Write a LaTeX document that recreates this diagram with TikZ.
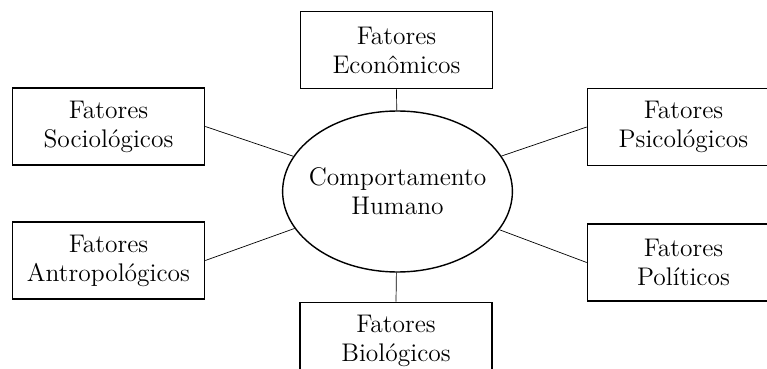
\documentclass[tikz,border=0pt]{standalone}
\usetikzlibrary{shapes.geometric}
\begin{document}
\begin{tikzpicture}[fator style/.style={draw, rectangle, align=center, line width=0.9pt, minimum width=3.84cm, minimum height=1.54cm, font=\fontsize{14.5}{16.5}\selectfont}, centro style/.style={draw, ellipse, align=center, line width=0.8pt, inner xsep=-0.15cm, inner ysep=0pt, minimum width=4.58cm, minimum height=3.22cm, font=\fontsize{14.5}{16.5}\selectfont}]
	\useasboundingbox (0, 0) rectangle (15.34, 7.36);
	\node[centro style] (C) at (7.95, 3.53) {Comportamento\\Humano};
	\node[fator style] (F1) at (7.93, 6.36) {Fatores\\Econômicos};
	\node[fator style] (F2) at (2.17, 4.83) {Fatores\\Sociológicos};
	\node[fator style] (F3) at (13.67, 4.82) {Fatores\\Psicológicos};
	\node[fator style] (F4) at (2.17, 2.15) {Fatores\\Antropológicos};
	\node[fator style] (F5) at (13.67, 2.11) {Fatores\\Políticos};
	\node[fator style] (F6) at (7.92, 0.54) {Fatores\\Biológicos};
	\foreach \x/\a in {1/south, 2/east, 3/west, 4/east, 5/west, 6/north}
	\draw (F\x.\a) -- (C);
\end{tikzpicture}
\end{document}
